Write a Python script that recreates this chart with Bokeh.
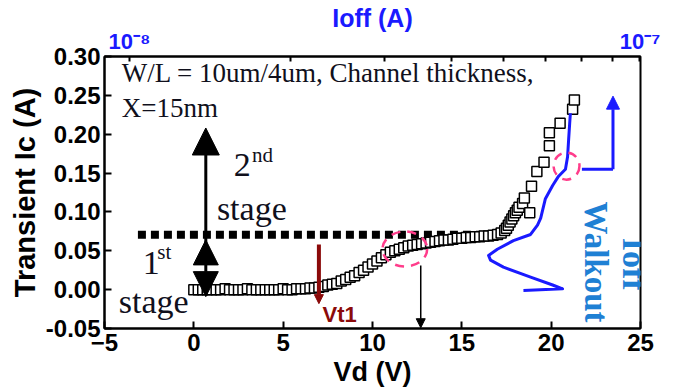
import math
from bokeh.plotting import figure
from bokeh.models import (Range1d, LogAxis, FixedTicker, NumeralTickFormatter,
                          Arrow, NormalHead, Label, LogScale)
from bokeh.embed import file_html
from bokeh.resources import INLINE

# ---------------- data ----------------
vd = [0.0, 0.25, 0.5, 0.75, 1.0, 1.25, 1.5, 1.75, 2.0, 2.25, 2.5, 2.75, 3.0, 3.25,
      3.5, 3.75, 4.0, 4.25, 4.5, 4.75, 5.0, 5.25, 5.5, 5.75, 6.0, 6.25, 6.5, 6.75,
      7.0, 7.25, 7.5, 7.75, 8.0, 8.25, 8.5, 8.75, 9.0, 9.25, 9.5, 9.75,
      10.0, 10.25, 10.5, 10.75, 11.0, 11.25, 11.5, 11.75, 12.0, 12.25, 12.5, 12.75,
      13.0, 13.25, 13.5, 13.75, 14.0, 14.25, 14.5, 14.75, 15.0, 15.25, 15.5, 15.75,
      16.0, 16.25, 16.5, 16.75,
      17.0, 17.2, 17.4, 17.5, 17.6, 17.7, 17.8, 17.9, 18.0, 18.1, 18.2, 18.4, 18.5,
      18.8, 18.9, 19.2, 19.6, 19.9, 19.9, 20.5, 21.2, 21.3]
ic = [0.000, 0.000, 0.000, 0.000, 0.000, 0.000, 0.000, 0.001, 0.000, 0.000, 0.000, 0.000,
      0.001, 0.000, 0.000, 0.000, 0.000, 0.000, 0.000, 0.000, 0.001, 0.000, 0.000, 0.001,
      0.001, 0.001, 0.002, 0.002,
      0.003, 0.004, 0.006, 0.007, 0.008, 0.011, 0.013, 0.016, 0.018, 0.022, 0.025, 0.029,
      0.033, 0.037, 0.041, 0.045, 0.048, 0.050, 0.052, 0.054, 0.056, 0.057, 0.058, 0.059,
      0.060, 0.061, 0.062, 0.063, 0.064, 0.064, 0.065, 0.066, 0.066, 0.067, 0.067, 0.068,
      0.068, 0.069, 0.069, 0.070,
      0.071, 0.073, 0.076, 0.079, 0.083, 0.087, 0.091, 0.095, 0.099, 0.102, 0.106, 0.111,
      0.118, 0.099, 0.133, 0.152, 0.164, 0.185, 0.202, 0.214, 0.232, 0.244]

# Ioff walkout curve (Ioff on the top log axis, drawn against the Ic axis)
ioff_walk = [5.45e-8, 6.45e-8, 6.18e-8, 5.62e-8, 5.00e-8, 4.73e-8, 4.69e-8, 4.87e-8,
             5.22e-8, 5.62e-8, 5.79e-8, 5.87e-8, 5.99e-8, 6.18e-8, 6.34e-8, 6.53e-8,
             6.59e-8, 6.62e-8, 6.65e-8, 6.67e-8]
ic_walk = [-0.001, 0.001, 0.006, 0.016, 0.029, 0.038, 0.044, 0.052,
           0.063, 0.071, 0.083, 0.092, 0.117, 0.134, 0.146, 0.155,
           0.171, 0.193, 0.214, 0.227]

x_ticks = [-5, 0, 5, 10, 15, 20, 25]
y_ticks = [-0.05, 0.00, 0.05, 0.10, 0.15, 0.20, 0.25, 0.30]
ioff_major = [1e-8, 9e-8]                       # labelled ends of the top axis
ioff_minor = [2e-8, 3e-8, 4e-8, 5e-8, 6e-8, 7e-8, 8e-8]
ioff_labels = {1e-8: "10\u207b\u2078", 9e-8: "10\u207b\u2077"}

stage_level = 0.0705   # boundary between 1st and 2nd stage
vt1 = 7.0

SANS = "Liberation Sans"
SERIF = "Liberation Serif"
BLUE = "#1a1aff"
LBLUE = "#1f80d4"
PINK = "#ff3d8b"
DRED = "#8b0a0a"
TXT = "#10101c"

p = figure(width=678, height=392, x_range=Range1d(-5, 25), y_range=Range1d(-0.05, 0.30),
           output_backend="svg", toolbar_location=None,
           min_border_left=104, min_border_right=38, min_border_top=50, min_border_bottom=64)
p.extra_x_ranges = {"ioff": Range1d(0.898e-8, 9.02e-8)}
p.extra_x_scales = {"ioff": LogScale()}

p.xgrid.visible = False
p.ygrid.visible = False
p.outline_line_color = "black"
p.outline_line_width = 2
p.outline_line_alpha = 1
p.background_fill_color = "white"
p.border_fill_color = "white"

xa = p.xaxis[0]
ya = p.yaxis[0]
xa.ticker = FixedTicker(ticks=x_ticks, minor_ticks=[])
ya.ticker = FixedTicker(ticks=y_ticks, minor_ticks=[])
ya.formatter = NumeralTickFormatter(format="0.00")
xa.axis_label = "Vd (V)"
ya.axis_label = "Transient Ic (A)"
for ax in (xa, ya):
    ax.major_tick_in = 7
    ax.major_tick_out = 0
    ax.minor_tick_in = 0
    ax.minor_tick_out = 0
    ax.axis_line_width = 2
    ax.major_tick_line_width = 2
    ax.major_label_text_font = SANS
    ax.major_label_text_font_style = "bold"
    ax.major_label_text_font_size = "24px"
    ax.major_label_text_color = "black"
    ax.axis_label_text_font = SANS
    ax.axis_label_text_font_style = "bold"
    ax.axis_label_text_color = "black"
xa.major_label_standoff = 5
xa.axis_label_standoff = 3
xa.axis_label_text_font_size = "27px"
ya.major_label_standoff = 4
ya.axis_label_standoff = 2
ya.axis_label_text_font_size = "29px"

# top Ioff axis (log), decade labels at its two ends
top = LogAxis(x_range_name="ioff",
              ticker=FixedTicker(ticks=ioff_major, minor_ticks=ioff_minor),
              axis_label="Ioff (A)", major_label_overrides=ioff_labels)
top.major_tick_in = 5
top.major_tick_out = 0
top.minor_tick_in = 5
top.minor_tick_out = 0
top.axis_line_width = 2
top.major_tick_line_width = 2
top.minor_tick_line_width = 2
top.minor_tick_line_color = "black"
top.major_label_text_font = SANS
top.major_label_text_font_style = "bold"
top.major_label_text_font_size = "22px"
top.major_label_text_color = BLUE
top.major_label_standoff = 3
top.axis_label_text_font = SANS
top.axis_label_text_font_style = "bold"
top.axis_label_text_font_size = "25px"
top.axis_label_text_color = BLUE
top.axis_label_standoff = -6
p.add_layout(top, "above")

# stage boundary (thick dotted line)
p.line([-3.13, 16.3], [stage_level, stage_level], line_color="black", line_width=8,
       line_dash="8 5", line_cap="butt")

# transient Ic data
p.scatter(vd, ic, marker="square", size=10, fill_color="white", line_color="black",
          line_width=1.5)

# Ioff walkout curve
p.line(ioff_walk, ic_walk, x_range_name="ioff", line_color=BLUE, line_width=3,
       line_join="round")

# pink dashed ellipses
p.ellipse(x=[11.81, 20.86], y=[0.0523, 0.159], width=[2.5, 1.45], height=[0.045, 0.035],
          fill_alpha=0, line_color=PINK, line_width=2.5, line_dash="9 7")

# stage arrows
p.add_layout(Arrow(end=NormalHead(size=27, fill_color="black", line_color="black"),
                   x_start=0.67, y_start=0.035, x_end=0.67, y_end=0.208,
                   line_width=3, line_color="black"))
p.add_layout(Arrow(end=NormalHead(size=25, fill_color="black", line_color="black"),
                   x_start=0.67, y_start=0.035, x_end=0.67, y_end=0.064,
                   line_width=3, line_color="black"))
p.add_layout(Arrow(end=NormalHead(size=25, fill_color="black", line_color="black"),
                   x_start=0.67, y_start=0.035, x_end=0.67, y_end=-0.009,
                   line_width=3, line_color="black"))
# Vt1 arrow
p.add_layout(Arrow(end=NormalHead(size=9, fill_color=DRED, line_color=DRED),
                   x_start=vt1, y_start=0.058, x_end=vt1, y_end=-0.018,
                   line_width=4, line_color=DRED))
# thin black arrow
p.add_layout(Arrow(end=NormalHead(size=9, fill_color="black", line_color="black"),
                   x_start=12.7, y_start=0.031, x_end=12.7, y_end=-0.049,
                   line_width=1.5, line_color="black"))
# blue L-shaped arrow
p.line([21.72, 23.46], [0.155, 0.155], line_color=BLUE, line_width=3)
p.add_layout(Arrow(end=NormalHead(size=13, fill_color=BLUE, line_color=BLUE),
                   x_start=23.46, y_start=0.155, x_end=23.46, y_end=0.249,
                   line_width=3, line_color=BLUE))

def lab(x, y, text, size, color=TXT, font=SERIF, style="normal", angle=0,
        align="left", baseline="middle"):
    p.add_layout(Label(x=x, y=y, text=text, text_font=font, text_font_size=size,
                       text_color=color, text_font_style=style, angle=angle,
                       text_align=align, text_baseline=baseline))

lab(-4.03, 0.2785, "W/L = 10um/4um, Channel thickness,", "27px")
lab(-4.03, 0.2331, "X=15nm", "27px")
lab(2.24, 0.160, "2", "34px")
lab(3.25, 0.1738, "nd", "21px")
lab(1.29, 0.105, "stage", "34px")
lab(-2.86, 0.0346, "1", "34px")
lab(-2.05, 0.049, "st", "21px")
lab(-4.2, -0.0157, "stage", "34px")
lab(7.2, -0.032, "Vt1", "22px", color=DRED, font=SANS, style="bold")
lab(22.51, 0.1134, "Walkout", "33px", color=LBLUE, style="bold", angle=-math.pi / 2)
lab(24.64, 0.0668, "Ioff", "34px", color=LBLUE, style="bold", angle=-math.pi / 2)

open("out.html", "w").write(file_html(p, INLINE))
